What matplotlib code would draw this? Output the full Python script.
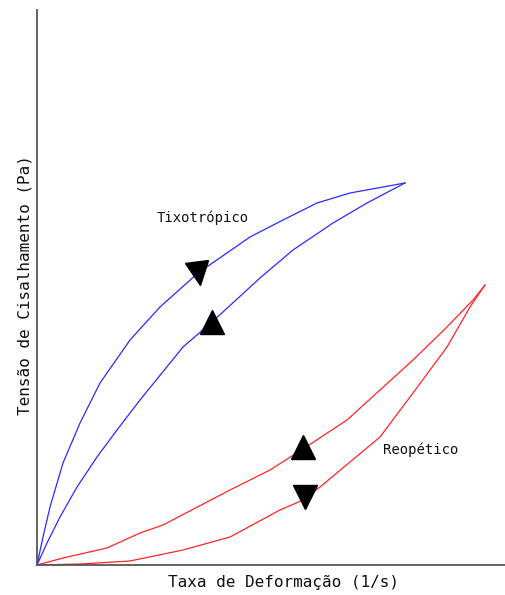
import matplotlib
matplotlib.use("Agg")
from matplotlib import pyplot as plt
from matplotlib.markers import MarkerStyle
from matplotlib.transforms import Affine2D

# curves (arbitrary units, no ticks on the original)
tixo_up_x = [0, 6, 13, 26, 43, 63, 93, 123, 161, 213, 246, 280, 313, 346, 368]
tixo_up_y = [0, 28, 58, 102, 142, 182, 225, 258, 292, 328, 345, 362, 372, 378, 382]

tixo_down_x = [0, 10, 23, 40, 60, 80, 103, 146, 175, 223, 256, 296, 330, 368]
tixo_down_y = [0, 22, 48, 78, 108, 135, 165, 218, 243, 287, 315, 342, 362, 382]

reo_up_x = [0, 26, 70, 103, 126, 193, 233, 266, 310, 343, 376, 410, 436, 448]
reo_up_y = [0, 7, 17, 32, 40, 75, 95, 116, 145, 175, 205, 238, 265, 280]

reo_down_x = [0, 43, 93, 146, 193, 243, 266, 283, 343, 376, 410, 433, 448]
reo_down_y = [0, 1, 4, 15, 28, 55, 65, 78, 128, 172, 218, 258, 280]

# direction arrows (position, marker, rotation)
arrow_x = [161, 175, 266, 268]
arrow_y = [292, 243, 118, 68]
arrow_m = ['v', '^', '^', 'v']
arrow_rot = [8, 0, 0, 0]

labels = ["Tixotrópico", "Reopético"]
label_x = [166, 384]
label_y = [347, 115]

fig = plt.figure(figsize=(5.05, 5.95), dpi=100)
ax = fig.add_axes([37 / 505, 30 / 595, 468 / 505, 555 / 595])

blue = '#2a2aff'
red = '#ff2424'
ax.plot(tixo_up_x, tixo_up_y, color=blue, lw=0.9)
ax.plot(tixo_down_x, tixo_down_y, color=blue, lw=0.9)
ax.plot(reo_up_x, reo_up_y, color=red, lw=0.9)
ax.plot(reo_down_x, reo_down_y, color=red, lw=0.9)

for x, y, m, r in zip(arrow_x, arrow_y, arrow_m, arrow_rot):
    ms = MarkerStyle(m, transform=Affine2D().rotate_deg(r))
    ax.plot(x, y, marker=ms, color='black', markersize=17, linestyle='none')

font = 'DejaVu Sans Mono'
for t, x, y in zip(labels, label_x, label_y):
    ax.text(x, y, t, fontsize=10, family=font, ha='center', va='center',
            color='#111111')

ax.set_xlim(0, 468)
ax.set_ylim(0, 555)
ax.set_xticks([])
ax.set_yticks([])
for s in ['top', 'right']:
    ax.spines[s].set_visible(False)
for s in ['left', 'bottom']:
    ax.spines[s].set_color('#555555')
    ax.spines[s].set_linewidth(1.3)

fig.text(283 / 505, 1 - 583 / 595, "Taxa de Deformação (1/s)", fontsize=11.5,
         family=font, ha='center', va='center', color='#111111')
fig.text(25 / 505, 1 - 285 / 595, "Tensão de Cisalhamento (Pa)", fontsize=11.5,
         family=font, ha='center', va='center', rotation=90, color='#111111')

fig.savefig("out.png", dpi=100)
